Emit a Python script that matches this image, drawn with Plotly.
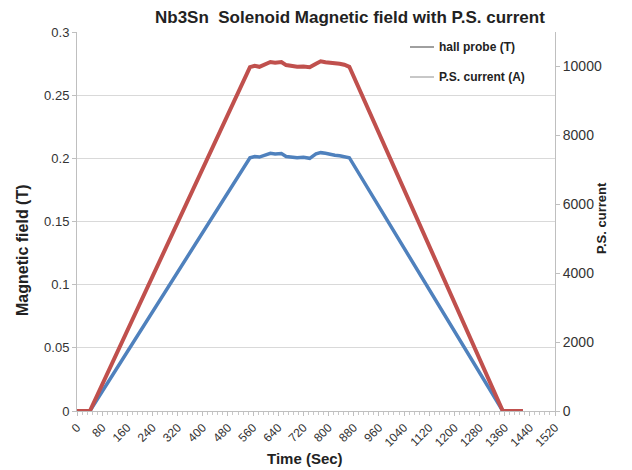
import plotly.graph_objects as go

# ---- data ----
time_s = [0, 20, 41, 550, 565, 580, 600, 615, 630, 650, 665, 680, 700, 720, 740,
          760, 775, 790, 805, 820, 835, 850, 866, 1354, 1380, 1418]
hall_probe_T = [0.0, 0.0, 0.0, 0.2005, 0.2015, 0.2010, 0.2030, 0.2040, 0.2035, 0.2038,
                0.2015, 0.2010, 0.2005, 0.2008, 0.2000, 0.2035, 0.2045, 0.2040, 0.2030,
                0.2025, 0.2020, 0.2015, 0.2005, 0.0, 0.0, 0.0]
ps_current_A = [0, 0, 0, 9980, 10020, 9990, 10060, 10130, 10110, 10130, 10040, 10010,
                9990, 10000, 9980, 10080, 10150, 10120, 10110, 10090, 10080, 10050,
                9990, 0, 0, 0]

x_ticks = list(range(0, 1521, 80))
left_ticks = [0, 0.05, 0.1, 0.15, 0.2, 0.25, 0.3]
right_ticks = [0, 2000, 4000, 6000, 8000, 10000]

title_text = "Nb3Sn  Solenoid Magnetic field with P.S. current"
series_names = ["hall probe (T)", "P.S. current (A)"]

FONT = "Liberation Sans, Arial, sans-serif"
OFF = 8  # page body margin
W, H = 632 - OFF, 470 - OFF
L, T = 77 - OFF, 32 - OFF
R = W - (555 - OFF)
B = H - (411 - OFF)
dom_w = W - L - R
dom_h = H - T - B


def px_x(page_x):
    return (page_x - OFF - L) / dom_w


def px_y(page_y):
    return (H - B - (page_y - OFF)) / dom_h


fig = go.Figure()
fig.add_trace(go.Scatter(x=time_s, y=hall_probe_T, mode="lines", name=series_names[0],
                         line=dict(color="#4F81BD", width=3.5), yaxis="y",
                         showlegend=False))
fig.add_trace(go.Scatter(x=time_s, y=ps_current_A, mode="lines", name=series_names[1],
                         line=dict(color="#C0504D", width=4), yaxis="y2",
                         showlegend=False))

fig.update_layout(
    width=W, height=H,
    margin=dict(l=L, r=R, t=T, b=B, autoexpand=False),
    paper_bgcolor="white", plot_bgcolor="white",
    font=dict(family=FONT, size=12, color="#333333"),
    xaxis=dict(range=[0, 1520], tickvals=x_ticks, ticktext=[str(v) for v in x_ticks],
               tickangle=-45, tickfont=dict(size=12, color="#333333"),
               automargin=False,
               showgrid=False, zeroline=False, showline=True, linecolor="#BFBFBF",
               ticks="outside", ticklen=4, tickcolor="#BFBFBF",
               minor=dict(dtick=16, ticks="outside", ticklen=3, tickcolor="#C8C8C8")),
    yaxis=dict(range=[0, 0.3], tickvals=left_ticks,
               ticktext=["0", "0.05", "0.1", "0.15", "0.2", "0.25", "0.3"],
               automargin=False,
               showgrid=True, gridcolor="#D9D9D9", zeroline=False,
               showline=True, linecolor="#BFBFBF", ticks="outside", ticklen=4,
               tickcolor="#BFBFBF", tickfont=dict(size=13, color="#333333")),
    yaxis2=dict(range=[0, 11000], tickvals=right_ticks,
                ticktext=[str(v) for v in right_ticks],
                automargin=False,
                overlaying="y", side="right", showgrid=False, zeroline=False,
                showline=True, linecolor="#BFBFBF", ticks="outside", ticklen=4,
                tickcolor="#BFBFBF", tickfont=dict(size=14, color="#333333")),
)

# chart title
fig.add_annotation(xref="paper", yref="paper", x=px_x(350), y=px_y(18),
                   text="<b>" + title_text + "</b>", showarrow=False,
                   xanchor="center", yanchor="middle",
                   font=dict(family=FONT, size=17, color="#222222"))

# axis titles placed as in the reference
fig.add_annotation(xref="paper", yref="paper", x=px_x(22), y=px_y(250),
                   text="<b>Magnetic field (T)</b>", textangle=-90, showarrow=False,
                   xanchor="center", yanchor="middle",
                   font=dict(size=16, color="#222222"))
fig.add_annotation(xref="paper", yref="paper", x=px_x(601), y=px_y(218),
                   text="<b>P.S. current</b>", textangle=-90, showarrow=False,
                   xanchor="center", yanchor="middle",
                   font=dict(size=13, color="#222222"))
fig.add_annotation(xref="paper", yref="paper", x=px_x(305), y=px_y(458),
                   text="<b>Time (Sec)</b>", showarrow=False,
                   xanchor="center", yanchor="middle",
                   font=dict(size=15, color="#222222"))

# manual legend (Excel-like, grey line samples)
legend_items = [(series_names[0], 47, "#404040"), (series_names[1], 77, "#909090")]
for name, ypx, col in legend_items:
    yd = px_y(ypx)
    fig.add_shape(type="line", xref="paper", yref="paper",
                  x0=px_x(410), x1=px_x(434), y0=yd, y1=yd,
                  line=dict(color=col, width=1))
    fig.add_annotation(xref="paper", yref="paper", x=px_x(437), y=yd,
                       xanchor="left", yanchor="middle", showarrow=False,
                       text="<b>" + name + "</b>",
                       font=dict(size=12, color="#222222"))

fig.write_html("out.html")
